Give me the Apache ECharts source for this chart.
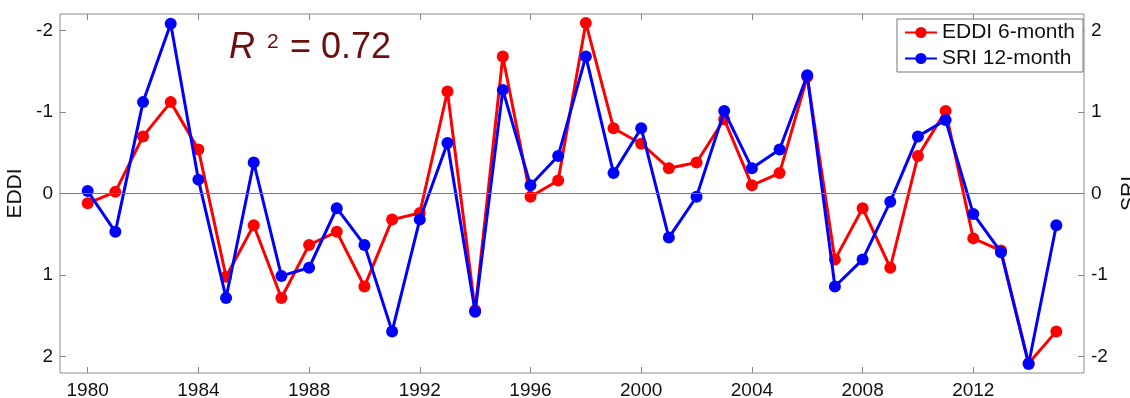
<!DOCTYPE html>
<html>
<head>
<meta charset="utf-8">
<script src="https://cdn.jsdelivr.net/npm/echarts@6/dist/echarts.min.js"></script>
<style>
  html, body { margin: 0; padding: 0; background: #fff; }
  #chart { width: 1130px; height: 398px; }
</style>
</head>
<body>
<div id="chart"></div>
<script>
// years and values
const years = [1980, 1981, 1982, 1983, 1984, 1985, 1986, 1987, 1988, 1989,
  1990, 1991, 1992, 1993, 1994, 1995, 1996, 1997, 1998, 1999,
  2000, 2001, 2002, 2003, 2004, 2005, 2006, 2007, 2008, 2009,
  2010, 2011, 2012, 2013, 2014, 2015]
const eddi = [0.12, -0.02, -0.70, -1.12, -0.54, 1.02, 0.39, 1.28, 0.63, 0.47,
  1.14, 0.32, 0.24, -1.25, 1.43, -1.68, 0.04, -0.16, -2.09, -0.80,
  -0.61, -0.31, -0.38, -0.91, -0.10, -0.25, -1.43, 0.81, 0.18, 0.91,
  -0.46, -1.01, 0.55, 0.70, 2.08, 1.69]
const sri = [0.03, -0.47, 1.12, 2.08, 0.17, -1.28, 0.38, -1.01, -0.91, -0.18,
  -0.63, -1.69, -0.32, 0.62, -1.45, 1.27, 0.10, 0.46, 1.68, 0.25,
  0.80, -0.54, -0.04, 1.01, 0.31, 0.54, 1.45, -1.14, -0.81, -0.10,
  0.70, 0.90, -0.25, -0.72, -2.09, -0.39]
const xTicks = [1980, 1984, 1988, 1992, 1996, 2000, 2004, 2008, 2012]
const yTicks = [-2, -1, 0, 1, 2]

const chart = echarts.init(document.getElementById('chart'))

const tickStyle = { show: true, inside: true, length: 6, lineStyle: { color: '#888' } }
const labelFont = { color: '#111', fontFamily: 'Liberation Sans, Arial', fontSize: 19 }

const option = {
  animation: false,
  grid: {
    left: 60, right: 46, top: 14, bottom: 25,
    outerBoundsMode: 'none',
    show: true, borderColor: '#8c8c8c', borderWidth: 1
  },
  legend: {
    orient: 'vertical',
    right: 47, top: 19,
    backgroundColor: '#fff',
    borderColor: '#777', borderWidth: 1,
    padding: [3, 8, 3, 7],
    itemGap: 5,
    itemWidth: 32, itemHeight: 14,
    textStyle: { color: '#111', fontFamily: 'Liberation Sans, Arial', fontSize: 21 },
    data: ['EDDI 6-month', 'SRI 12-month']
  },
  xAxis: [
    {
      type: 'value', min: 1979, max: 2016,
      axisLine: { show: false, onZero: false }, splitLine: { show: false },
      axisTick: Object.assign({ customValues: xTicks }, tickStyle),
      axisLabel: Object.assign({ customValues: xTicks, margin: 8, formatter: v => String(v) }, labelFont)
    },
    {
      type: 'value', min: 1979, max: 2016, position: 'top',
      axisLine: { show: false, onZero: false }, splitLine: { show: false },
      axisTick: Object.assign({ customValues: xTicks }, tickStyle),
      axisLabel: { show: false }
    }
  ],
  yAxis: [
    {
      type: 'value', min: -2.2, max: 2.2, inverse: true,
      name: 'EDDI', nameLocation: 'middle', nameGap: 33,
      nameTextStyle: { color: '#111', fontFamily: 'Liberation Sans, Arial', fontSize: 21 },
      axisLine: { show: false, onZero: false }, splitLine: { show: false },
      axisTick: Object.assign({ customValues: yTicks }, tickStyle),
      axisLabel: Object.assign({ customValues: yTicks, margin: 7 }, labelFont)
    },
    {
      type: 'value', min: -2.2, max: 2.2, position: 'right',
      name: 'SRI', nameLocation: 'middle', nameGap: 30, nameRotate: 90,
      nameTextStyle: { color: '#111', fontFamily: 'Liberation Sans, Arial', fontSize: 21 },
      axisLine: { show: false, onZero: false }, splitLine: { show: false },
      axisTick: Object.assign({ customValues: yTicks }, tickStyle),
      axisLabel: Object.assign({ customValues: yTicks, margin: 7 }, labelFont)
    }
  ],
  graphic: [
    { type: 'text', left: 229, top: 30, style: { text: 'R', fontSize: 36, fontStyle: 'italic', fontFamily: 'Liberation Sans, Arial', fill: '#6b0e0e' } },
    { type: 'text', left: 267, top: 32, style: { text: '2', fontSize: 21, fontFamily: 'Liberation Sans, Arial', fill: '#6b0e0e' } },
    { type: 'text', left: 290, top: 30, style: { text: '= 0.72', fontSize: 36, fontFamily: 'Liberation Sans, Arial', fill: '#6b0e0e' } }
  ],
  series: [
    {
      name: 'EDDI 6-month',
      type: 'line',
      yAxisIndex: 0,
      data: years.map((y, i) => [y, eddi[i]]),
      symbol: 'circle', symbolSize: 12,
      lineStyle: { color: '#ff0000', width: 3 },
      itemStyle: { color: '#ff0000' },
      markLine: {
        silent: true, symbol: 'none', label: { show: false },
        lineStyle: { color: '#777', width: 1, type: 'solid' },
        data: [{ yAxis: 0 }]
      },
      z: 2
    },
    {
      name: 'SRI 12-month',
      type: 'line',
      yAxisIndex: 1,
      data: years.map((y, i) => [y, sri[i]]),
      symbol: 'circle', symbolSize: 12,
      lineStyle: { color: '#0000ff', width: 3 },
      itemStyle: { color: '#0000ff' },
      z: 3
    }
  ]
}

chart.setOption(option)
</script>
</body>
</html>
